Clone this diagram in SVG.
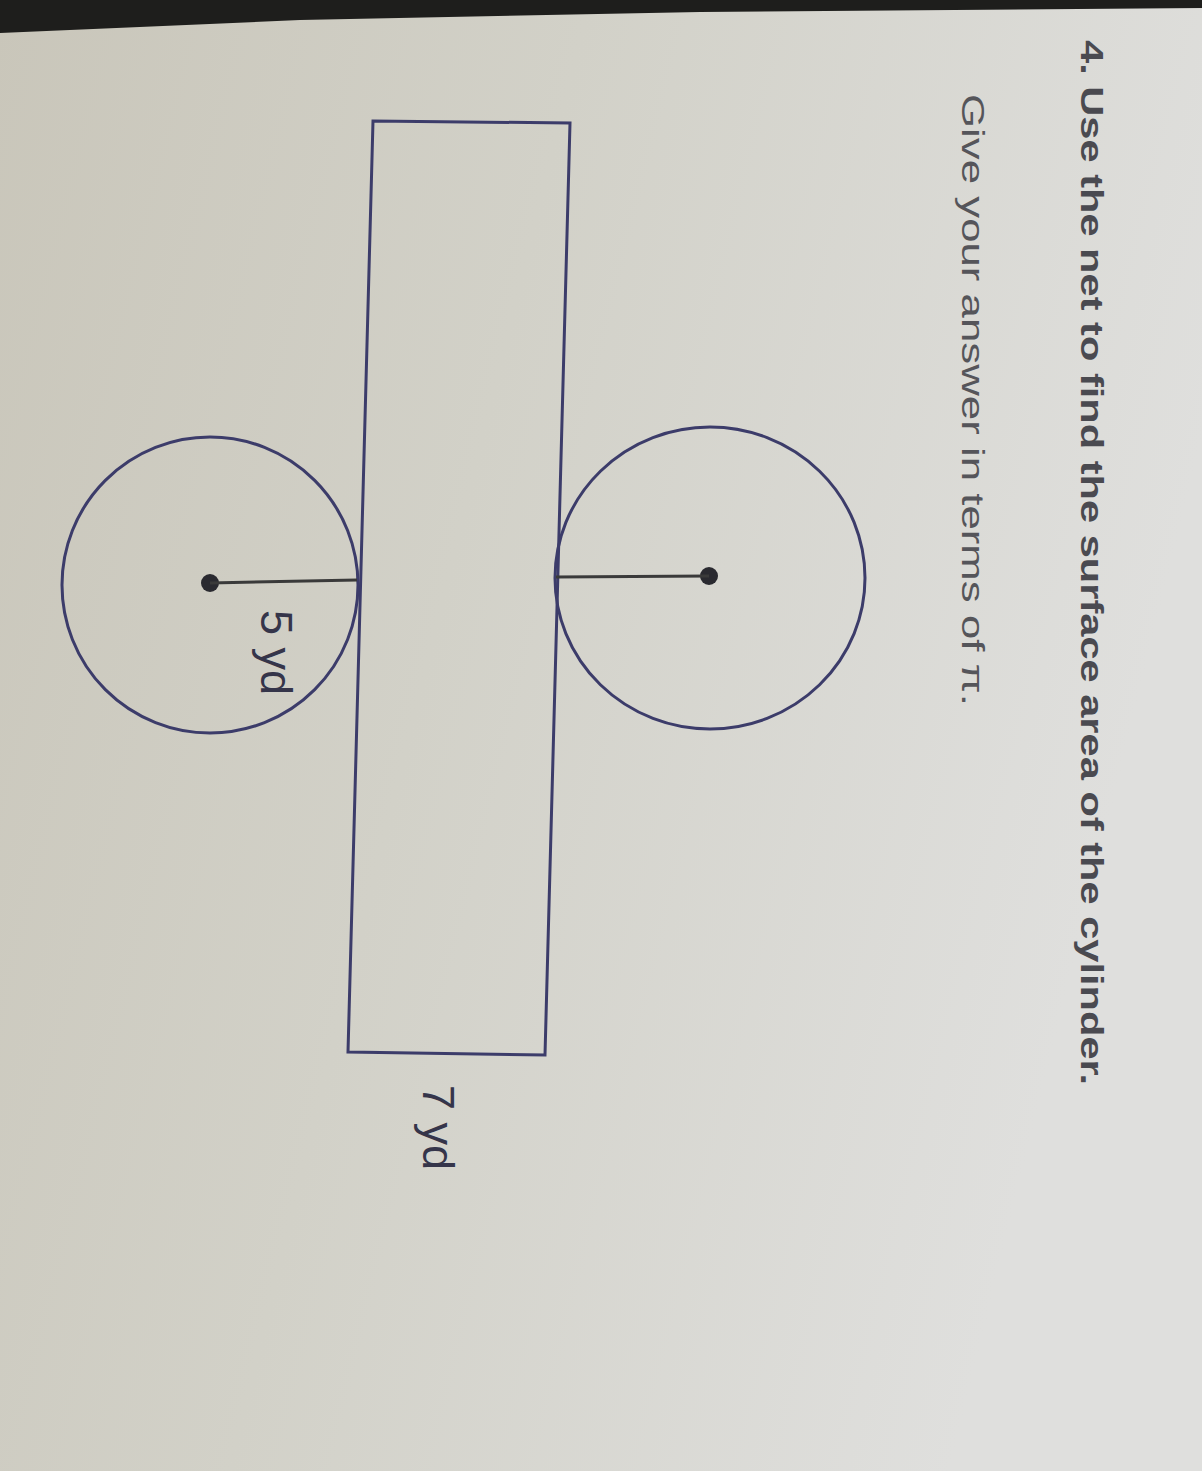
<svg xmlns="http://www.w3.org/2000/svg" width="1202" height="1471" viewBox="0 0 1202 1471">
<defs>
<linearGradient id="bg" x1="0" y1="0" x2="1" y2="0.3">
<stop offset="0" stop-color="#c9c6ba"/>
<stop offset="0.45" stop-color="#d2d1c8"/>
<stop offset="1" stop-color="#dfdfdd"/>
</linearGradient>
<style>
.shape{fill:none;stroke:#3c3c6a;stroke-width:3}
.rad{stroke:#3a3a3a;stroke-width:3}
.dot{fill:#2a2a30}
.t{font-family:"Liberation Sans",Arial,sans-serif}
</style>
</defs>
<rect width="1202" height="1471" fill="url(#bg)"/>
<polygon points="0,0 1202,0 1202,8 700,12 300,20 0,33" fill="#1e1e1c"/>
<g id="text">
<text class="t" transform="translate(1081,40) rotate(90)" font-size="32" font-weight="bold" fill="#4a4a50" textLength="1045" lengthAdjust="spacingAndGlyphs">4. Use the net to find the surface area of the cylinder.</text>
<text class="t" transform="translate(962,94) rotate(90)" font-size="32" fill="#55555a" textLength="612" lengthAdjust="spacingAndGlyphs">Give your answer in terms of π.</text>
</g>
<g id="rectangle">
<polygon class="shape" points="373,121 570,123 545,1055 348,1052"/>
</g>
<g id="circle-left">
<ellipse class="shape" cx="210" cy="585" rx="148" ry="148"/>
<circle class="dot" cx="210" cy="583" r="9"/>
</g>
<g id="circle-right">
<ellipse class="shape" cx="710" cy="578" rx="155" ry="151"/>
<circle class="dot" cx="709" cy="576" r="9"/>
</g>
<g id="connectors">
<line class="rad" x1="210" y1="583" x2="357" y2="580"/>
<line class="rad" x1="556" y1="577" x2="709" y2="576"/>
</g>
<g id="labels">
<text class="t" transform="translate(261,610) rotate(90)" font-size="45" fill="#35354a">5 yd</text>
<text class="t" transform="translate(423,1085) rotate(90)" font-size="45" fill="#35354a">7 yd</text>
</g>
</svg>
